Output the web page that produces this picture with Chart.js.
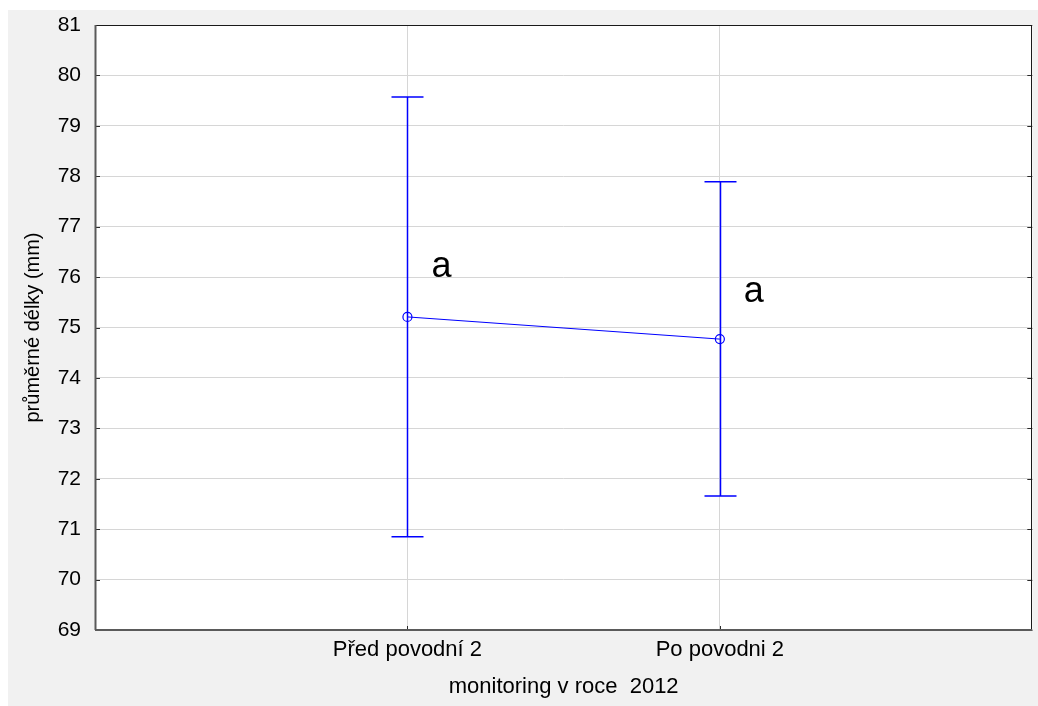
<!DOCTYPE html>
<html>
<head>
<meta charset="utf-8">
<script src="https://cdn.jsdelivr.net/npm/chart.js@4/dist/chart.umd.min.js"></script>
<style>
  html, body { margin: 0; padding: 0; background: #ffffff; }
  #panel { position: absolute; left: 8px; top: 10px; width: 1030px; height: 696px; background: #f1f1f1; }
  canvas { display: block; }
</style>
</head>
<body>
<div id="panel"><canvas id="chart" width="1030" height="696"></canvas></div>
<script>
// Mean body length with confidence interval, before and after the 2012 flood
const categories = ['Před povodní 2', 'Po povodni 2'];
const means = [75.21, 74.77];
const lowerBounds = [70.85, 71.66];
const upperBounds = [79.57, 77.89];
const groupLetters = ['a', 'a'];
const letterValues = [76.0, 75.5];
const yTickMin = 69;
const yTickMax = 81;
const xAxisTitle = 'monitoring v roce  2012';
const yAxisTitle = 'průměrné délky (mm)';

const FONT = "'Liberation Sans', Arial, sans-serif";
const BLUE = '#0000ff';
const GRID = '#d6d6d6';

const points = means.map((m, i) => ({ x: i + 1, y: m }));

// Error whiskers, group letters, plot frame and inward tick marks
const decorations = {
  id: 'decorations',
  beforeDraw(chart) {
    const { ctx, chartArea: a } = chart;
    ctx.save();
    ctx.fillStyle = '#ffffff';
    ctx.fillRect(a.left, a.top, a.right - a.left, a.bottom - a.top);
    ctx.restore();
  },
  afterDatasetsDraw(chart) {
    const { ctx, scales: { x, y } } = chart;
    ctx.save();
    ctx.strokeStyle = BLUE;
    ctx.lineWidth = 1.5;
    means.forEach((m, i) => {
      const px = Math.round(x.getPixelForValue(i + 1)) + 0.5;
      const top = y.getPixelForValue(upperBounds[i]);
      const bot = y.getPixelForValue(lowerBounds[i]);
      ctx.beginPath();
      ctx.moveTo(px, top); ctx.lineTo(px, bot);
      ctx.moveTo(px - 16, top); ctx.lineTo(px + 16, top);
      ctx.moveTo(px - 16, bot); ctx.lineTo(px + 16, bot);
      ctx.stroke();
    });
    ctx.fillStyle = '#000000';
    ctx.font = '36px ' + FONT;
    ctx.textAlign = 'left';
    ctx.textBaseline = 'alphabetic';
    groupLetters.forEach((t, i) => {
      const px = x.getPixelForValue(i + 1);
      ctx.fillText(t, px + 24, y.getPixelForValue(letterValues[i]));
    });
    ctx.restore();
  },
  afterDraw(chart) {
    const { ctx, chartArea: a, scales: { x, y } } = chart;
    ctx.save();
    ctx.strokeStyle = '#2a2a2a';
    ctx.lineWidth = 1;
    ctx.beginPath();
    for (let v = yTickMin; v <= yTickMax; v++) {
      const py = Math.round(y.getPixelForValue(v)) + 0.5;
      ctx.moveTo(a.left, py); ctx.lineTo(a.left + 5, py);
      ctx.moveTo(a.right - 5, py); ctx.lineTo(a.right, py);
    }
    categories.forEach((c, i) => {
      const px = Math.round(x.getPixelForValue(i + 1)) + 0.5;
      ctx.moveTo(px, a.bottom); ctx.lineTo(px, a.bottom - 4);
    });
    ctx.stroke();
    ctx.strokeStyle = '#1a1a1a';
    ctx.strokeRect(Math.round(a.left) + 0.5, Math.round(a.top) + 0.5,
                   Math.round(a.right - a.left) - 1, Math.round(a.bottom - a.top) - 1);
    ctx.strokeStyle = '#5a5a5a';
    ctx.lineWidth = 2;
    ctx.beginPath();
    ctx.moveTo(a.left, Math.round(a.bottom)); ctx.lineTo(a.right, Math.round(a.bottom));
    ctx.moveTo(Math.round(a.left) + 0.5, a.top); ctx.lineTo(Math.round(a.left) + 0.5, a.bottom);
    ctx.stroke();
    ctx.restore();
  }
};

new Chart(document.getElementById('chart'), {
  type: 'line',
  data: {
    datasets: [{
      data: points,
      borderColor: BLUE,
      borderWidth: 1,
      pointStyle: 'circle',
      pointRadius: 4.5,
      pointBorderWidth: 1.2,
      pointBorderColor: BLUE,
      pointBackgroundColor: 'rgba(0,0,0,0)',
      tension: 0
    }]
  },
  options: {
    responsive: false,
    devicePixelRatio: 1,
    animation: false,
    layout: { padding: { top: 15, right: 5, left: 0, bottom: 0 } },
    plugins: { legend: { display: false }, tooltip: { enabled: false } },
    scales: {
      x: {
        type: 'linear',
        min: 0,
        max: categories.length + 1,
        afterFit(scale) {
          scale.height = 76;
          scale.paddingLeft = 0; scale.paddingRight = 0;
          scale.paddingTop = 0; scale.paddingBottom = 0;
        },
        afterBuildTicks(scale) {
          scale.ticks = [];
          for (let v = 0; v <= categories.length + 1; v++) scale.ticks.push({ value: v });
        },
        ticks: {
          autoSkip: false,
          maxRotation: 0,
          padding: 7,
          color: '#000000',
          font: { family: FONT, size: 22 },
          callback: (v) => (v >= 1 && v <= categories.length) ? categories[v - 1] : ''
        },
        grid: {
          drawTicks: false,
          color: (c) => (c.tick && c.tick.value >= 1 && c.tick.value <= categories.length) ? GRID : 'rgba(0,0,0,0)'
        },
        border: { display: false },
        title: {
          display: true,
          text: xAxisTitle,
          color: '#000000',
          font: { family: FONT, size: 22 },
          padding: { top: 0, bottom: 6 }
        }
      },
      y: {
        min: yTickMin,
        max: yTickMax,
        afterFit(scale) {
          scale.width = 87;
          scale.paddingLeft = 0; scale.paddingRight = 0;
          scale.paddingTop = 0; scale.paddingBottom = 0;
        },
        ticks: {
          stepSize: 1,
          padding: 14,
          color: '#000000',
          font: { family: FONT, size: 21 }
        },
        grid: { drawTicks: false, color: GRID },
        border: { display: false },
        title: {
          display: true,
          text: yAxisTitle,
          color: '#000000',
          font: { family: FONT, size: 20 },
          padding: { top: 13, bottom: 0 }
        }
      }
    }
  },
  plugins: [decorations]
});
</script>
</body>
</html>
